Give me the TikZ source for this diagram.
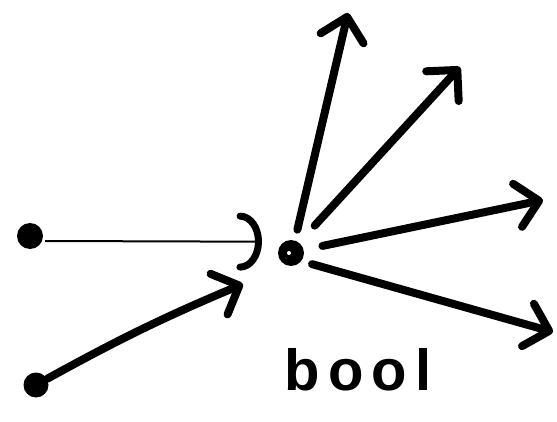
\documentclass[tikz,border=0pt]{standalone}
\usepackage{fontspec}
\setmainfont{Liberation Sans}
\usetikzlibrary{arrows.meta}
\begin{document}
\begin{tikzpicture}[x=1pt,y=-1pt,
  dot/.style={circle,fill=black,inner sep=0pt,minimum size=#1},
  barb/.style={-{Straight Barb[length=22pt,width=44pt,line cap=round,line join=round]}},
  fat/.style={line width=8pt,line cap=round,barb},
]
\useasboundingbox (0,0) rectangle (557,422);
% points
\node[dot=26pt] (d1) at (30,236) {};
\node[dot=25pt] (d2) at (36,385) {};
\node[dot=26pt,path picture={\fill[white] ([shift={(-2pt,0pt)}]path picture bounding box.center) circle (2pt);}] (c) at (291,253) {};
% free ends
\coordinate (e1) at (262,241.7);
\coordinate (e2) at (243,284);
\coordinate (t1) at (348,13);
\coordinate (t2) at (460,67);
\coordinate (t3) at (543,200);
\coordinate (t4) at (553,332);
% incoming
\draw[line width=2pt,-{Arc Barb[length=22pt,width=58pt,line width=7pt,line cap=round]}]
  ([shift={(2pt,-5pt)}]d1.east) -- (e1);
\draw[fat] (d2) to[bend left=3] (e2);
% outgoing
\draw[fat,shorten <=11pt] (c.73) -- (t1);
\draw[fat,shorten <=23pt] (c.52) -- (t2);
\draw[fat,shorten <=19pt] (c.14) -- (t3);
\draw[fat,shorten <=11pt] (c.-38) -- (t4);
% label
\node[anchor=base,font=\fontsize{58}{58}\selectfont\bfseries\addfontfeature{LetterSpace=14}] (lbl) at (358,390) {bool};
\end{tikzpicture}
\end{document}
